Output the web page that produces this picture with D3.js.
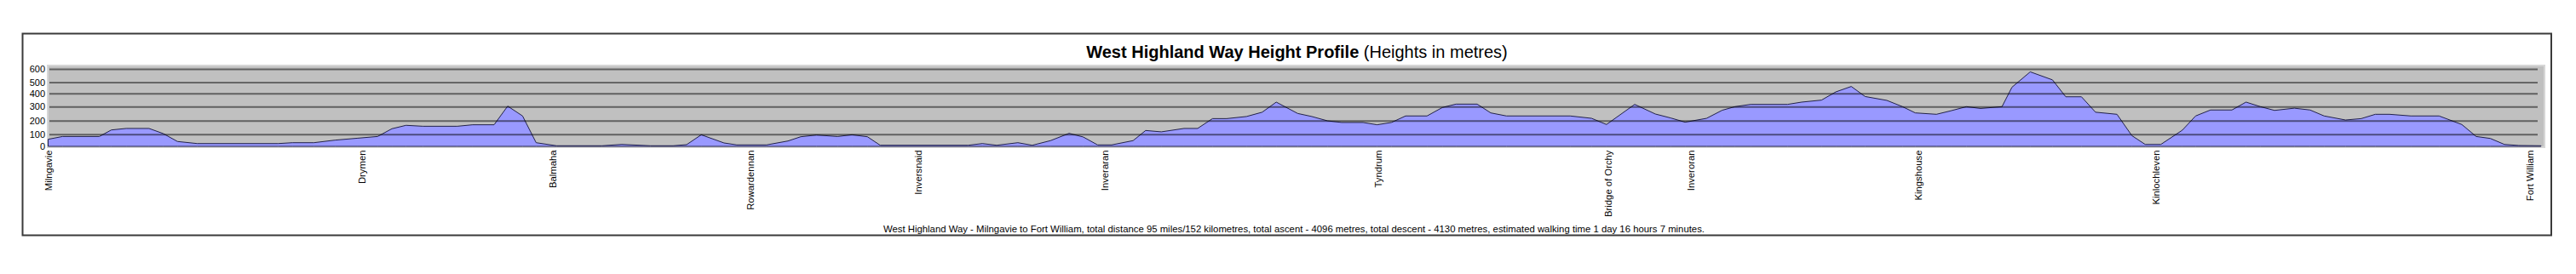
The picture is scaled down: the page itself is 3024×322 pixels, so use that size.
<!DOCTYPE html>
<html>
<head>
<meta charset="utf-8">
<script src="https://cdn.jsdelivr.net/npm/d3@7"></script>
<style>
html,body{margin:0;padding:0;background:#fff;}
svg{display:block;font-family:"Liberation Sans",Arial,sans-serif;}
</style>
</head>
<body>
<svg id="chart" width="3024" height="322"></svg>
<script>
// ---- data (distance along the route in miles, height in metres) ----
const distanceMiles = [0, 0.55, 1.96, 2.42, 2.99, 3.86, 4.41, 4.95, 5.71, 8.81, 9.35, 10.17, 10.98, 11.85, 12.61, 13.16, 13.70, 14.35, 15.66,
  16.25, 17.07, 17.59, 18.16, 18.68, 19.46, 21.20, 21.96, 23.05, 23.92, 24.44, 25.00, 25.87, 26.36, 27.50, 28.32, 28.81, 29.41, 30.22, 30.77, 31.36, 31.85,
  35.22, 35.76, 36.31, 37.12, 37.67, 38.37, 39.08, 39.62, 40.17, 40.71, 41.53, 42.01, 42.61, 43.48, 44.00, 44.57, 45.11, 45.87, 46.47, 47.01, 47.83,
  48.37, 48.97, 49.51, 50.33, 50.87, 51.42, 51.96, 52.78, 53.37, 53.89, 54.70, 55.22, 55.82, 58.26, 59.08, 59.65, 60.73, 61.52, 62.12, 62.66, 63.48,
  64.08, 64.57, 65.17, 66.58, 67.12, 67.88, 68.43, 69.02, 69.55, 70.38, 70.98, 71.47, 72.28, 72.83, 73.43, 73.97, 74.79, 75.17, 75.87, 76.72, 77.23, 77.83, 78.37, 79.19,
  79.76, 80.27, 80.87, 81.69, 82.20, 82.77, 83.59, 84.13, 84.68, 85.22, 85.98, 86.58, 87.12, 87.94, 88.54, 89.08, 89.62, 90.44, 91.52, 92.39, 92.94, 93.48, 94.02, 94.57, 95.42];

const heightMetres = [58, 81, 81, 131, 142, 142, 104, 40, 23, 23, 30, 30, 51, 67, 81, 140, 165, 158, 158,
  169, 169, 304, 233, 30, 5, 5, 16, 5, 5, 14, 95, 28, 12, 12, 44, 79, 93, 81, 95, 79, 9,
  9, 23, 9, 30, 9, 47, 106, 77, 12, 12, 47, 127, 117, 142, 142, 214, 214, 229, 260, 334, 251,
  229, 198, 186, 186, 169, 186, 233, 233, 294, 319, 319, 255, 233, 233, 216, 171, 317, 247, 218, 188, 216,
  274, 300, 317, 317, 334, 349, 413, 462, 376, 347, 300, 255, 245, 270, 300, 287, 300, 455, 578, 518, 374, 374, 260, 245,
  88, 16, 16, 129, 233, 276, 276, 334, 300, 273, 289, 276, 233, 204, 214, 245, 245, 233, 233, 171, 81, 65, 16, 7, 5];

const towns = ["Milngavie", "Drymen", "Balmaha", "Rowardennan", "Inversnaid", "Inveraran", "Tyndrum",
  "Bridge of Orchy", "Inveroran", "Kingshouse", "Kinlochleven", "Fort William"];
const townMiles = [0, 12.0, 19.32, 26.87, 33.28, 40.42, 50.91, 59.72, 62.88, 71.57, 80.67, 95];

const heightTicks = [0, 100, 200, 300, 400, 500, 600];

const titleBold = "West Highland Way Height Profile";
const titleRest = " (Heights in metres)";
const footerText = "West Highland Way - Milngavie to Fort William, total distance 95 miles/152 kilometres, total ascent - 4096 metres, total descent - 4130 metres, estimated walking time 1 day 16 hours 7 minutes.";

// ---- layout ----
const svg = d3.select("#chart");
const plot = {left: 56, right: 2987, top: 77, bottom: 173};

// outer frame
svg.append("rect")
  .attr("x", 26.5).attr("y", 39.5).attr("width", 2968.5).attr("height", 237)
  .attr("fill", "#fff").attr("stroke", "#3a3a3a").attr("stroke-width", 2);

// plot background
svg.append("rect")
  .attr("x", plot.left).attr("y", plot.top)
  .attr("width", plot.right - plot.left).attr("height", plot.bottom - plot.top)
  .attr("fill", "#c0c0c0").attr("stroke", "#d6d6d6").attr("stroke-width", 2);

const x = d3.scaleLinear().domain([0, 95]).range([56.5, 2970]);
const y = d3.scaleLinear().domain(heightTicks)
  .range([172, 157.67, 141.67, 125.33, 109.67, 96.67, 81]);

// area
const area = d3.area()
  .x((d, i) => x(distanceMiles[i]))
  .y0(y(0))
  .y1(d => y(d));

svg.append("path")
  .datum(heightMetres)
  .attr("d", area)
  .attr("fill", "#9999ff")
  .attr("stroke", "#22224a")
  .attr("stroke-width", 1)
  .attr("stroke-linejoin", "round");

// y axis with gridlines drawn over the area
const gridRight = 2979;
const yAxis = d3.axisLeft(y)
  .tickValues(heightTicks)
  .tickSizeInner(-(gridRight - plot.left))
  .tickSizeOuter(0)
  .tickPadding(3)
  .tickFormat(d3.format("d"));

const gy = svg.append("g")
  .attr("transform", `translate(${plot.left},0)`)
  .call(yAxis);
gy.select(".domain").remove();
gy.selectAll(".tick line")
  .attr("x1", 2)
  .attr("stroke", "#000")
  .attr("stroke-opacity", d => d === 0 ? 0 : (d === 500 ? 0.75 : 0.5))
  .attr("stroke-width", d => d === 500 ? 1.4 : 2);
gy.selectAll(".tick text")
  .attr("font-size", 11)
  .attr("font-family", "'Liberation Sans', Arial, sans-serif")
  .attr("fill", "#000");

// x axis: town names, rotated
const xAxis = d3.axisBottom(x)
  .tickValues(townMiles)
  .tickFormat((d, i) => towns[i])
  .tickSize(0);

const gx = svg.append("g")
  .attr("transform", `translate(0,${y(0)})`)
  .call(xAxis);
gx.select(".domain").remove();
gx.selectAll(".tick text")
  .attr("transform", "rotate(-90)")
  .attr("text-anchor", "end")
  .attr("x", -4.5)
  .attr("y", 0)
  .attr("dy", "0.35em")
  .attr("font-size", 11.3)
  .attr("font-family", "'Liberation Sans', Arial, sans-serif")
  .attr("fill", "#000");

// title
const title = svg.append("text")
  .attr("x", 1522.5).attr("y", 68.3)
  .attr("text-anchor", "middle")
  .attr("font-size", 20)
  .attr("fill", "#000");
title.append("tspan").attr("font-weight", "bold").text(titleBold);
title.append("tspan").text(titleRest);

// footer
svg.append("text")
  .attr("x", 1519).attr("y", 272.5)
  .attr("text-anchor", "middle")
  .attr("font-size", 11.35)
  .attr("fill", "#000")
  .text(footerText);
</script>
</body>
</html>
